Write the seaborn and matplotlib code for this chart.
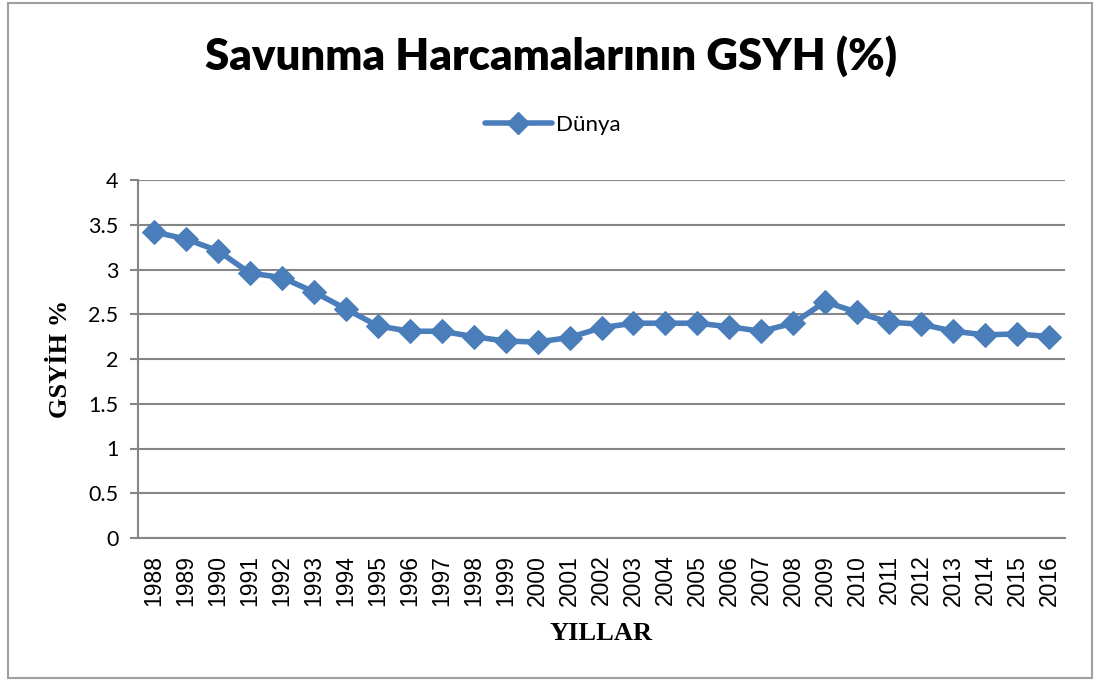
import matplotlib
matplotlib.use("Agg")
import matplotlib.pyplot as plt
import seaborn as sns
import pandas as pd
from matplotlib.patches import Rectangle
from matplotlib.lines import Line2D

years = [str(y) for y in range(1988, 2017)]
values = [3.42, 3.34, 3.21, 2.96, 2.91, 2.75, 2.56, 2.37, 2.31, 2.31,
          2.25, 2.20, 2.19, 2.24, 2.35, 2.40, 2.40, 2.40, 2.36, 2.31,
          2.40, 2.64, 2.52, 2.41, 2.39, 2.31, 2.27, 2.28, 2.25]
series_name = "Dünya"
title = "Savunma Harcamalarının GSYH (%)"
y_ticks = [0, 0.5, 1, 1.5, 2, 2.5, 3, 3.5, 4]
y_tick_labels = ["0", "0.5", "1", "1.5", "2", "2.5", "3", "3.5", "4"]

df = pd.DataFrame({"Yil": years, "Deger": values})

sns.set_theme(style="white")
plt.rcParams['font.family'] = ['Lato', 'DejaVu Sans']
plt.rcParams['text.color'] = 'black'
plt.rcParams['axes.labelcolor'] = 'black'

W, H = 1094, 680
fig = plt.figure(figsize=(W / 100, H / 100), dpi=100)
ax = fig.add_axes([138 / W, 1 - 538 / H, (1065 - 138) / W, (538 - 180) / H])

color = "#4A7EBB"
sns.lineplot(data=df, x="Yil", y="Deger", ax=ax, color=color, linewidth=4,
             marker="D", markersize=12.5, markeredgecolor=color, sort=False)

ax.set_xlim(-0.5, len(years) - 0.5)
ax.set_ylim(0, 4)
ax.set_yticks(y_ticks)
ax.set_yticklabels(y_tick_labels, fontsize=15.5, family=['Lato', 'DejaVu Sans'])
ax.set_xticks(range(len(years)))
ax.set_xticklabels(years, rotation=90, fontsize=16.5,
                   family=['Liberation Sans', 'DejaVu Sans'])
ax.yaxis.grid(True, color="#868686", linewidth=1.5)
ax.xaxis.grid(False)
for s in ["top", "right"]:
    ax.spines[s].set_visible(False)
for s in ["left", "bottom"]:
    ax.spines[s].set_color("#868686")
    ax.spines[s].set_linewidth(1.5)
ax.tick_params(axis="y", which="both", left=True, length=6, width=1.5,
               color="#868686", pad=8, labelcolor="black")
ax.tick_params(axis="x", bottom=False, pad=6, labelcolor="black")

ax.set_xlabel("YILLAR", fontsize=19, fontweight="bold", color="black",
              family=['Liberation Serif', 'DejaVu Serif'], labelpad=12)
ax.set_ylabel("GSYİH %", fontsize=19, fontweight="bold", color="black",
              family=['Liberation Serif', 'DejaVu Serif'], labelpad=12)

fig.text(551 / W, 1 - 56 / H, title, ha="center", va="center", color="black",
         fontsize=31.5, fontweight="heavy", family=['Lato', 'DejaVu Sans'])

handle = Line2D([], [], color=color, linewidth=4, marker="D", markersize=11,
                markeredgecolor=color)
fig.legend([handle], [series_name], loc="center", bbox_to_anchor=(553 / W, 1 - 125 / H),
           frameon=False, fontsize=16, handlelength=3.0, handletextpad=0.2,
           labelcolor="black")

fig.patches.append(Rectangle((8 / W, 2 / H), (1092 - 8) / W, (677 - 2) / H,
                             transform=fig.transFigure, fill=False,
                             edgecolor="#A0A0A0", linewidth=1.5))

fig.savefig("out.png", dpi=100, facecolor="white")
